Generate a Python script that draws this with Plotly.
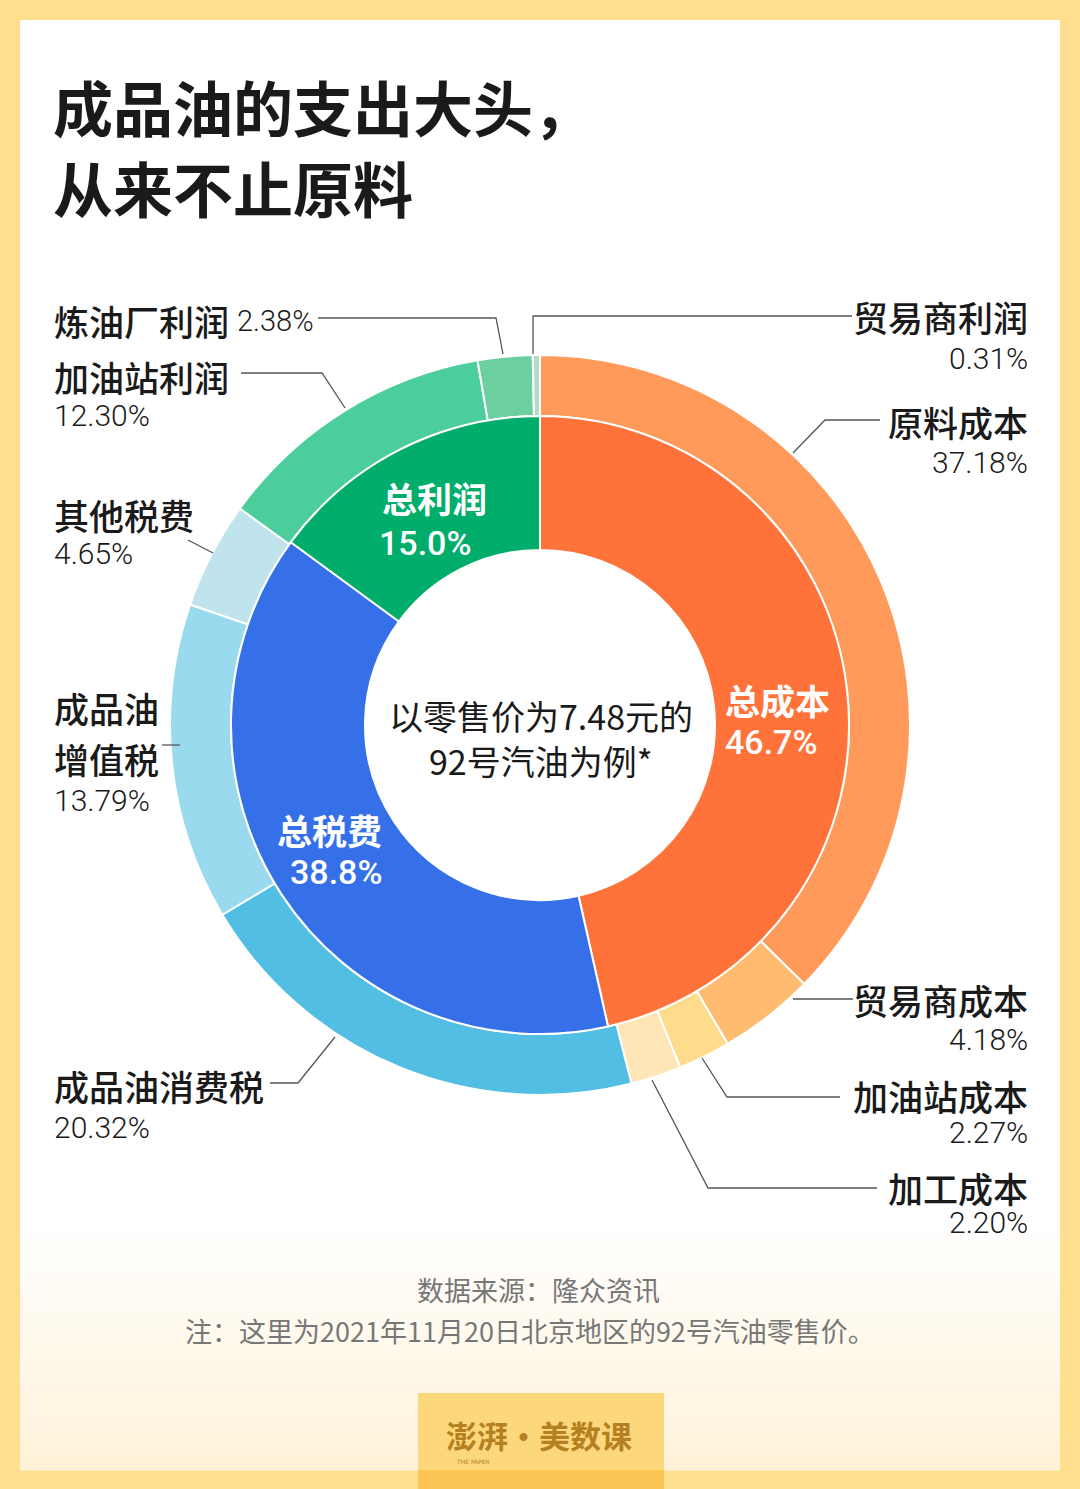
import plotly.graph_objects as go

W, H = 1080, 1489

# inner ring: group totals
inner_labels = ['总成本', '总税费', '总利润']
inner_values = [46.7, 38.8, 15.0]
inner_colors = ['#FF733A', '#3570E8', '#00AD6B']

# outer ring: breakdown
outer_labels = ['原料成本', '贸易商成本', '加油站成本', '加工成本',
                '成品油消费税', '成品油增值税', '其他税费',
                '加油站利润', '炼油厂利润', '贸易商利润']
outer_values = [37.18, 4.18, 2.27, 2.20, 20.32, 13.79, 4.65, 12.30, 2.38, 0.31]
outer_colors = ['#FF9A5A', '#FFBC70', '#FFDC8C', '#FFE6B6',
                '#52BEE4', '#99DAEE', '#C0E4EE',
                '#4BCD9C', '#6CCFA0', '#B0DCC8']

title_lines = ['成品油的支出大头，', '从来不止原料']
center_lines = ['以零售价为7.48元的', '92号汽油为例*']
source_text = '数据来源：隆众资讯'
note_text = '注：这里为2021年11月20日北京地区的92号汽油零售价。'

CJK = 'Noto Sans CJK SC'
NUM = 'Roboto, Noto Sans CJK SC'


def px(x, y):
    return x / W, 1 - y / H


cx, cy = 540, 725
R_out, R_mid, R_hole = 370, 309, 175

fig = go.Figure()
fig.add_trace(go.Pie(
    labels=outer_labels, values=outer_values, sort=False,
    direction='clockwise', rotation=0, hole=R_mid / R_out,
    marker=dict(colors=outer_colors, line=dict(color='white', width=2)),
    textinfo='none', hoverinfo='label+percent', showlegend=False,
    domain=dict(x=[(cx - R_out) / W, (cx + R_out) / W],
                y=[1 - (cy + R_out) / H, 1 - (cy - R_out) / H]),
))
fig.add_trace(go.Pie(
    labels=inner_labels, values=inner_values, sort=False,
    direction='clockwise', rotation=0, hole=R_hole / R_mid,
    marker=dict(colors=inner_colors, line=dict(color='white', width=2)),
    textinfo='none', hoverinfo='label+percent', showlegend=False,
    domain=dict(x=[(cx - R_mid) / W, (cx + R_mid) / W],
                y=[1 - (cy + R_mid) / H, 1 - (cy - R_mid) / H]),
))

shapes = []
# white card
shapes.append(dict(type='rect', xref='paper', yref='paper',
                   x0=20 / W, x1=1060 / W, y0=1 - 1470 / H, y1=1 - 20 / H,
                   fillcolor='white', line=dict(width=0), layer='below'))
# bottom gradient on card
n = 60
g0, g1 = 1225, 1470
c0, c1 = (255, 255, 255), (255, 242, 216)
for i in range(n):
    t = (i + 0.5) / n
    col = tuple(round(c0[k] + (c1[k] - c0[k]) * t) for k in range(3))
    ya = g0 + (g1 - g0) * i / n
    yb = g0 + (g1 - g0) * (i + 1) / n + 0.6
    shapes.append(dict(type='rect', xref='paper', yref='paper',
                       x0=20 / W, x1=1060 / W, y0=1 - yb / H, y1=1 - ya / H,
                       fillcolor='rgb(%d,%d,%d)' % col, line=dict(width=0), layer='below'))
# logo box
shapes.append(dict(type='rect', xref='paper', yref='paper', x0=418 / W, x1=664 / W,
                   y0=1 - 1470 / H, y1=1 - 1393 / H, fillcolor='#FDD77C',
                   line=dict(width=0), layer='below'))
shapes.append(dict(type='rect', xref='paper', yref='paper', x0=418 / W, x1=664 / W,
                   y0=0, y1=1 - 1470 / H, fillcolor='#FDC654',
                   line=dict(width=0), layer='below'))

# leader lines (pixel polylines)
leaders = [
    [(533, 354), (533, 316), (852, 316)],            # 贸易商利润
    [(503, 354), (496, 318), (318, 318)],            # 炼油厂利润
    [(345, 408), (322, 373), (241, 373)],            # 加油站利润
    [(213, 553), (188, 540)],                        # 其他税费
    [(180, 745), (162, 745)],                        # 成品油增值税
    [(335, 1037), (298, 1083), (270, 1083)],         # 成品油消费税
    [(793, 453), (825, 420), (880, 420)],            # 原料成本
    [(793, 999), (853, 999)],                        # 贸易商成本
    [(702, 1058), (727, 1097), (840, 1097)],         # 加油站成本
    [(652, 1080), (708, 1188), (877, 1188)],         # 加工成本
]
for pts in leaders:
    path = 'M ' + ' L '.join('%f %f' % px(x, y) for x, y in pts)
    shapes.append(dict(type='path', xref='paper', yref='paper', path=path,
                       line=dict(color='#555555', width=1.3)))

ann = []


def text(x, y, s, size, color='#1a1a1a', anchor='left', family=CJK, weight='normal'):
    ax, ay = px(x, y)
    ann.append(dict(xref='paper', yref='paper', x=ax, y=ay, text=s, showarrow=False,
                    xanchor=anchor, yanchor='middle',
                    font=dict(family=family, size=size, color=color, weight=weight)))


# title
text(51, 106, title_lines[0], 60, weight='bold')
text(51, 187, title_lines[1], 60, weight='bold')

LS, PS = 35, 30  # label size, percent size
# left labels
text(52, 320, '炼油厂利润', LS, weight=500)
text(235, 321, '2.38%', 29, family=NUM, weight=300)
text(52, 377, '加油站利润', LS, weight=500)
text(52, 415, '12.30%', PS, family=NUM, weight=300)
text(52, 515, '其他税费', LS, weight=500)
text(52, 553, '4.65%', PS, family=NUM, weight=300)
text(52, 708, '成品油', LS, weight=500)
text(52, 758, '增值税', LS, weight=500)
text(52, 800, '13.79%', PS, family=NUM, weight=300)
text(52, 1085, '成品油消费税', LS, weight=500)
text(52, 1127, '20.32%', PS, family=NUM, weight=300)

# right labels
text(1030, 316, '贸易商利润', LS, anchor='right', weight=500)
text(1030, 358, '0.31%', PS, anchor='right', family=NUM, weight=300)
text(1030, 421, '原料成本', LS, anchor='right', weight=500)
text(1030, 463, '37.18%', PS, anchor='right', family=NUM, weight=300)
text(1030, 1000, '贸易商成本', LS, anchor='right', weight=500)
text(1030, 1039, '4.18%', PS, anchor='right', family=NUM, weight=300)
text(1030, 1095, '加油站成本', LS, anchor='right', weight=500)
text(1030, 1132, '2.27%', PS, anchor='right', family=NUM, weight=300)
text(1030, 1187, '加工成本', LS, anchor='right', weight=500)
text(1030, 1222, '2.20%', PS, anchor='right', family=NUM, weight=300)

# inner ring labels
inner_pos = [(777, 699, 771, 742), (329, 829, 336, 872), (434, 497, 425, 543)]
for lab, val, (lx, ly, vx, vy) in zip(inner_labels, inner_values, inner_pos):
    text(lx, ly, lab, 35, color='white', anchor='center', weight='bold')
    text(vx, vy, '%.1f%%' % val, 34, color='white', anchor='center', family='Roboto', weight=500)

# center text
text(541, 715, center_lines[0], 34, anchor='center')
text(541, 760, center_lines[1], 34, anchor='center')

# footer
text(538, 1289, source_text, 27, color='#777777', anchor='center')
text(530, 1330, note_text, 27, color='#777777', anchor='center')

# logo
text(539, 1434, '澎湃·美数课', 31, color='#B5801F', anchor='center', weight='bold')
text(473, 1461, 'THE PAPER', 6, color='#B5801F', anchor='center', family='DejaVu Sans')

fig.update_layout(
    width=W, height=H, margin=dict(l=0, r=0, t=0, b=0),
    paper_bgcolor='#FFDF8E', plot_bgcolor='rgba(0,0,0,0)',
    shapes=shapes, annotations=ann,
)

fig.write_html('out.html', config={'displayModeBar': False},
               post_script="document.body.style.margin='0px';")
